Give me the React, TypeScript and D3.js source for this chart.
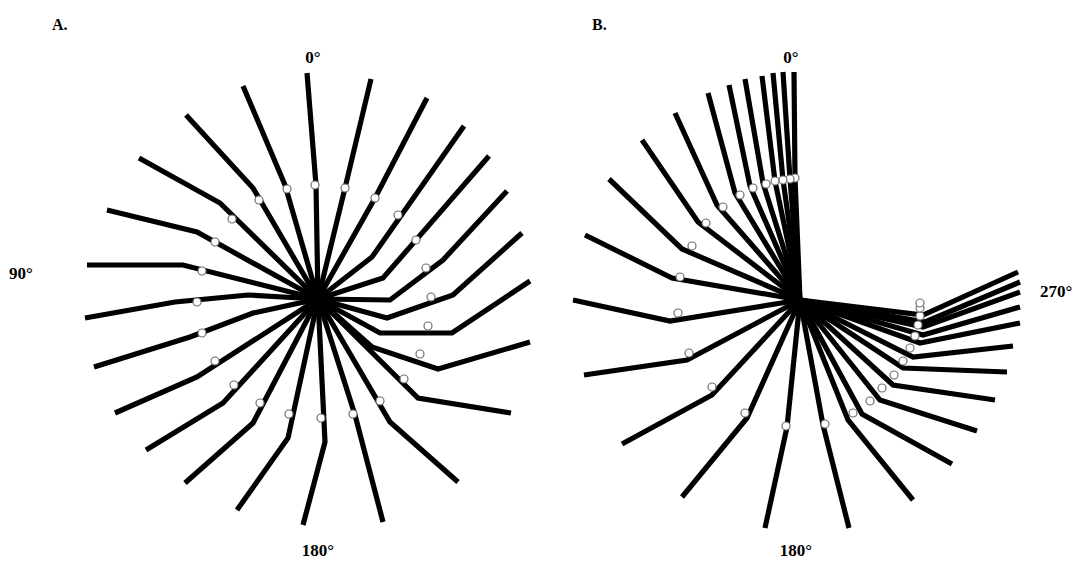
import React from 'react';
import * as d3 from 'd3';

const W = 1088;
const H = 569;

type Pt = [number, number];

// Panel A: each stick from the centre outward (x right, y up, data units)
const panelAPaths: Pt[][] = [
  [[0, 0], [-2, 114], [-11, 226]],
  [[0, 0], [-33, 114], [-75, 213]],
  [[0, 0], [-65, 111], [-132, 184]],
  [[0, 0], [-98, 96], [-179, 141]],
  [[0, 0], [-121, 67], [-211, 89]],
  [[0, 0], [-135, 34], [-231, 34]],
  [[0, 0], [-70, 4], [-143, -3], [-233, -19]],
  [[0, 0], [-65, -14], [-128, -38], [-224, -68]],
  [[0, 0], [-121, -78], [-203, -114]],
  [[0, 0], [-95, -104], [-172, -151]],
  [[0, 0], [-65, -124], [-133, -184]],
  [[0, 0], [-30, -139], [-81, -211]],
  [[0, 0], [7, -143], [-15, -226]],
  [[0, 0], [37, -116], [65, -223]],
  [[0, 0], [72, -123], [140, -183]],
  [[0, 0], [100, -99], [193, -114]],
  [[0, 0], [54, -48], [120, -70], [212, -43]],
  [[0, 0], [62, -34], [134, -34], [212, 18]],
  [[0, 0], [69, -19], [135, 4], [204, 66]],
  [[0, 0], [72, -1], [125, 39], [189, 108]],
  [[0, 0], [65, 21], [171, 143]],
  [[0, 0], [54, 42], [146, 173]],
  [[0, 0], [57, 101], [109, 201]],
  [[0, 0], [27, 111], [53, 220]],
];

const panelAJoints: Pt[] = [
  [-3, 114], [-31, 110], [-59, 99], [-86, 80], [-103, 57], [-116, 28],
  [-121, -3], [-116, -34], [-103, -62], [-84, -86], [-58, -104], [-29, -115],
  [3, -119], [35, -115], [62, -102], [86, -80], [102, -55], [110, -27],
  [113, 2], [108, 31], [98, 59], [80, 84], [57, 101], [27, 111],
];

// Panel B
const panelBPaths: Pt[][] = [
  [[0, 0], [-5, 122], [-6, 228]],
  [[0, 0], [-10, 121], [-17, 228]],
  [[0, 0], [-17, 120], [-27, 227]],
  [[0, 0], [-25, 119], [-38, 224]],
  [[0, 0], [-37, 117], [-55, 221]],
  [[0, 0], [-50, 114], [-71, 215]],
  [[0, 0], [-65, 107], [-92, 207]],
  [[0, 0], [-83, 95], [-125, 187]],
  [[0, 0], [-102, 78], [-158, 160]],
  [[0, 0], [-118, 51], [-191, 121]],
  [[0, 0], [-128, 22], [-215, 65]],
  [[0, 0], [-130, -21], [-227, 0]],
  [[0, 0], [-113, -60], [-216, -75]],
  [[0, 0], [-88, -95], [-178, -144]],
  [[0, 0], [-53, -118], [-118, -197]],
  [[0, 0], [-13, -127], [-35, -228]],
  [[0, 0], [23, -125], [49, -228]],
  [[0, 0], [48, -120], [113, -200]],
  [[0, 0], [62, -114], [152, -164]],
  [[0, 0], [80, -100], [177, -131]],
  [[0, 0], [93, -85], [195, -100]],
  [[0, 0], [103, -68], [207, -72]],
  [[0, 0], [113, -57], [213, -46]],
  [[0, 0], [120, -43], [220, -23]],
  [[0, 0], [123, -35], [220, -7]],
  [[0, 0], [123, -27], [220, 8]],
  [[0, 0], [125, -22], [220, 18]],
  [[0, 0], [123, -15], [218, 28]],
];

const panelBJoints: Pt[] = [
  [-5, 122], [-10, 121], [-17, 120], [-25, 119], [-34, 116], [-47, 112],
  [-60, 105], [-77, 93], [-94, 77], [-108, 54], [-120, 23], [-122, -13],
  [-111, -53], [-88, -87], [-55, -113], [-14, -126], [25, -124], [53, -113],
  [70, -101], [82, -88], [94, -75], [103, -61], [110, -48], [115, -36],
  [118, -25], [120, -16], [120, -8], [120, -3],
];

const panelTitles = ['A.', 'B.'];
const angleLabelsA = ['0°', '90°', '180°'];
const angleLabelsB = ['0°', '270°', '180°'];

const FONT = "'Liberation Serif', 'Times New Roman', serif";

function Panel({ paths, joints, cx, cy }: { paths: Pt[][]; joints: Pt[]; cx: number; cy: number }) {
  const x = d3.scaleLinear().domain([-250, 250]).range([cx - 250, cx + 250]);
  const y = d3.scaleLinear().domain([-250, 250]).range([cy + 250, cy - 250]);
  const line = d3
    .line<Pt>()
    .x((d) => x(d[0]))
    .y((d) => y(d[1]));
  return (
    <g>
      {paths.map((p, i) => (
        <path
          key={i}
          d={line(p) || ''}
          fill="none"
          stroke="#000"
          strokeWidth={5.2}
          strokeLinejoin="miter"
          strokeLinecap="butt"
        />
      ))}
      {joints.map((j, i) => (
        <circle key={i} cx={x(j[0])} cy={y(j[1])} r={4} fill="#fff" stroke="#6f6f6f" strokeWidth={1.2} />
      ))}
    </g>
  );
}

export default function App() {
  const txt = { fontFamily: FONT, fontWeight: 700, fontSize: 17, fill: '#000' } as const;
  return (
    <svg
      width={W}
      height={H}
      viewBox={`0 0 ${W} ${H}`}
      style={{ position: 'absolute', left: 0, top: 0, background: '#fff' }}
    >
      <rect width={W} height={H} fill="#fff" />
      <Panel paths={panelAPaths} joints={panelAJoints} cx={318} cy={299} />
      <Panel paths={panelBPaths} joints={panelBJoints} cx={800} cy={300} />

      <text x={52} y={30} {...txt} fontSize={16}>{panelTitles[0]}</text>
      <text x={592} y={30} {...txt} fontSize={16}>{panelTitles[1]}</text>

      <text x={313} y={63} textAnchor="middle" {...txt}>{angleLabelsA[0]}</text>
      <text x={9} y={279} {...txt}>{angleLabelsA[1]}</text>
      <text x={318} y={556} textAnchor="middle" {...txt}>{angleLabelsA[2]}</text>

      <text x={791} y={63} textAnchor="middle" {...txt}>{angleLabelsB[0]}</text>
      <text x={1040} y={297} {...txt}>{angleLabelsB[1]}</text>
      <text x={796} y={556} textAnchor="middle" {...txt}>{angleLabelsB[2]}</text>
    </svg>
  );
}
